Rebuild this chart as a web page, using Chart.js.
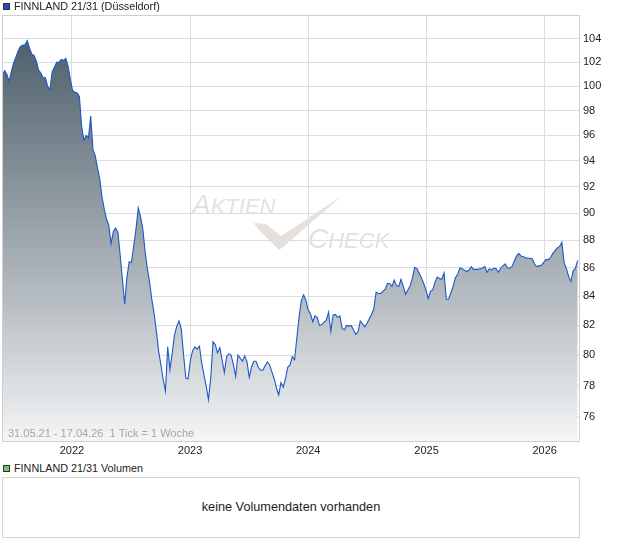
<!DOCTYPE html>
<html>
<head>
<meta charset="utf-8">
<title>FINNLAND 21/31</title>
<script src="https://cdn.jsdelivr.net/npm/chart.js@4.4.1/dist/chart.umd.min.js"></script>
<style>
    body { margin: 0; background: #fff; font-family: "Liberation Sans", Arial, sans-serif; color: #222; }
    #page { position: relative; width: 620px; height: 546px; overflow: hidden; }
    .legend { position: absolute; left: 3px; height: 12px; display: flex; align-items: center; font-size: 10.8px; white-space: nowrap; }
    .legend .box { width: 5px; height: 5px; border: 1px solid #333; margin-right: 4px; }
    #priceLegend { top: 0; }
    #priceLegend .box { background: #1f4fb0; }
    #volumeLegend { top: 462px; }
    #volumeLegend .box { background: #66cc66; }
    #chartWrap { position: absolute; left: 0; top: 0; width: 620px; height: 462px; }
    #volumeBox { position: absolute; left: 2px; top: 477px; width: 576px; height: 59px; border: 1px solid #d4d4d4; font-size: 12.7px; line-height: 59px; text-align: center; }
</style>
</head>
<body>
<div id="page">
    <div id="chartWrap"><canvas id="priceChart" width="620" height="462"></canvas></div>
    <div class="legend" id="priceLegend"><span class="box"></span><span id="priceTitle"></span></div>
    <div class="legend" id="volumeLegend"><span class="box"></span><span id="volumeTitle"></span></div>
    <div id="volumeBox"></div>
</div>
<script>
const seriesName = "FINNLAND 21/31 (Düsseldorf)";
const volumeName = "FINNLAND 21/31 Volumen";
const volumeNote = "keine Volumendaten vorhanden";
const rangeLabel = "31.05.21 - 17.04.26";
const tickNote = "1 Tick = 1 Woche";
const startDate = "2021-05-31";
const endDate = "2026-04-17";

const yearTicks = [2022, 2023, 2024, 2025, 2026];
const priceTicks = [76, 78, 80, 82, 84, 86, 88, 90, 92, 94, 96, 98, 100, 102, 104];

// one close per week, starting 31.05.21
const weeklyPrices = [
    100.9, 101.3, 101.0, 100.4, 101.25, 101.95, 102.45, 103.0, 103.35, 103.45,
    103.5, 103.85, 103.2, 102.7, 102.6, 102.1, 101.35, 101.1, 100.7, 100.7,
    100.0, 99.7, 101.2, 101.6, 102.0, 102.0, 102.25, 102.15, 102.35, 101.7,
    100.6, 99.65, 99.5, 99.45, 99.15, 96.75, 95.6, 96.0, 95.8, 97.55,
    94.9, 94.4, 93.45, 92.6, 91.2, 90.3, 89.55, 89.1, 87.75, 88.65,
    88.9, 88.6, 86.95, 85.2, 83.45, 85.35, 86.45, 86.4, 87.6, 88.85,
    90.4, 89.75, 88.85, 87.2, 85.95, 85.0, 83.75, 82.8, 81.6, 80.25,
    79.35, 78.4, 77.65, 80.55, 79.05, 80.15, 81.35, 81.95, 82.3, 81.75,
    80.0, 78.5, 78.45, 79.65, 80.3, 80.55, 80.4, 80.6, 79.5, 78.7,
    77.95, 77.1, 78.5, 80.9, 80.7, 80.15, 80.5, 79.7, 78.85, 79.9,
    80.1, 80.0, 79.35, 78.6, 80.0, 79.8, 79.6, 79.95, 79.55, 78.55,
    79.2, 79.6, 79.6, 79.2, 79.0, 79.0, 79.3, 79.55, 79.35, 78.9,
    78.45, 77.85, 77.4, 78.2, 77.9, 78.45, 79.2, 79.35, 79.9, 79.7,
    81.15, 82.6, 83.7, 84.1, 83.75, 83.05, 82.8, 82.25, 82.65, 82.55,
    82.0, 82.05, 82.2, 82.35, 82.9, 81.6, 82.7, 82.75, 82.55, 82.65,
    81.8, 81.7, 82.0, 81.95, 82.0, 81.7, 81.4, 81.55, 82.3, 82.1,
    81.9, 82.15, 82.45, 82.75, 83.15, 84.3, 84.2, 84.2, 84.35, 84.5,
    84.9, 84.9, 84.7, 85.15, 84.75, 84.7, 85.2, 84.7, 84.15, 84.45,
    84.75, 85.25, 86.05, 85.95, 85.65, 85.3, 84.9, 84.45, 83.85, 84.35,
    84.45, 85.0, 85.35, 85.25, 85.2, 85.65, 83.8, 83.8, 84.25, 84.7,
    85.3, 85.55, 86.0, 85.95, 85.85, 85.75, 85.85, 86.1, 85.9, 85.9,
    85.9, 85.95, 86.0, 86.1, 85.7, 85.95, 85.85, 86.0, 85.95, 85.7,
    86.0, 86.15, 86.3, 86.0, 86.0, 86.1, 86.5, 86.85, 87.05, 86.85,
    86.8, 86.75, 86.7, 86.7, 86.65, 86.25, 86.1, 86.15, 86.2, 86.4,
    86.6, 86.6, 86.75, 87.05, 87.25, 87.45, 87.55, 87.85, 86.4, 85.95,
    85.4, 85.05, 85.8, 86.0, 86.55
];

const DAY = 86400000;
const t0 = Date.parse(startDate + "T00:00:00Z");
const lastDay = (Date.parse(endDate + "T00:00:00Z") - t0) / DAY;
const yearDay = y => (Date.UTC(y, 0, 1) - t0) / DAY;

const labelFont = { family: "'Liberation Sans', Arial, sans-serif", size: 11 };

const chartFrame = {
    id: "chartFrame",
    beforeDatasetsDraw(chart) {
        const { ctx, chartArea: a } = chart;
        const ox = a.left, oy = a.top;
        ctx.save();
        ctx.fillStyle = "#e5e0db";
        ctx.textBaseline = "alphabetic";
        ctx.font = "italic 28px 'Liberation Sans', Arial, sans-serif";
        ctx.fillText("A", ox + 189, oy + 198);
        let w = ctx.measureText("A").width;
        ctx.font = "italic 22px 'Liberation Sans', Arial, sans-serif";
        ctx.fillText("KTIEN", ox + 189 + w, oy + 198);
        ctx.font = "italic 28px 'Liberation Sans', Arial, sans-serif";
        ctx.fillText("C", ox + 305, oy + 232);
        w = ctx.measureText("C").width;
        ctx.font = "italic 22px 'Liberation Sans', Arial, sans-serif";
        ctx.fillText("HECK", ox + 305 + w, oy + 232);
        ctx.beginPath();
        ctx.moveTo(ox + 251, oy + 207);
        ctx.lineTo(ox + 263, oy + 208);
        ctx.lineTo(ox + 278, oy + 220);
        ctx.lineTo(ox + 339, oy + 180);
        ctx.lineTo(ox + 280, oy + 231);
        ctx.lineTo(ox + 276, oy + 234);
        ctx.lineTo(ox + 255, oy + 213);
        ctx.closePath();
        ctx.fill();
        ctx.restore();
    },
    afterDatasetsDraw(chart) {
        const { ctx, chartArea: a } = chart;
        ctx.save();
        ctx.strokeStyle = "#cfcfcf";
        ctx.lineWidth = 1;
        ctx.strokeRect(a.left - 0.5, a.top - 0.5, a.right - a.left + 1, a.bottom - a.top + 1);
        ctx.fillStyle = "#a6a6a6";
        ctx.font = "11px 'Liberation Sans', Arial, sans-serif";
        ctx.textBaseline = "middle";
        ctx.fillText(rangeLabel + "  " + tickNote, a.left + 5, a.bottom - 7);
        ctx.restore();
    }
};

document.addEventListener("DOMContentLoaded", function () {
    document.getElementById("priceTitle").textContent = seriesName;
    document.getElementById("volumeTitle").textContent = volumeName;
    document.getElementById("volumeBox").textContent = volumeNote;

    const points = weeklyPrices.map((p, i) => ({ x: i * 7, y: p }));

    new Chart(document.getElementById("priceChart"), {
        type: "line",
        data: {
            datasets: [{
                label: seriesName,
                data: points,
                borderColor: "#1c58c7",
                borderWidth: 1.1,
                pointRadius: 0,
                tension: 0,
                fill: "start",
                backgroundColor: function (context) {
                    const a = context.chart.chartArea;
                    if (!a) return "rgba(0,0,0,0)";
                    const g = context.chart.ctx.createLinearGradient(0, a.top, 0, a.bottom);
                    g.addColorStop(0, "rgb(70,88,100)");
                    g.addColorStop(0.67, "rgb(182,189,194)");
                    g.addColorStop(1, "rgb(244,245,246)");
                    return g;
                }
            }]
        },
        options: {
            responsive: false,
            animation: false,
            devicePixelRatio: 1,
            layout: { padding: { top: 16, left: 3, right: 0, bottom: 0 } },
            plugins: {
                legend: { display: false },
                tooltip: { enabled: false }
            },
            scales: {
                x: {
                    type: "linear",
                    min: 2,
                    max: lastDay,
                    afterBuildTicks: scale => { scale.ticks = yearTicks.map(y => ({ value: yearDay(y) })); },
                    afterFit: scale => { scale.height = 21; },
                    ticks: {
                        callback: (v, i) => String(yearTicks[i]),
                        font: labelFont,
                        color: "#222",
                        padding: 3,
                        maxRotation: 0,
                        autoSkip: false
                    },
                    grid: { color: "#dcdcdc", drawTicks: false },
                    border: { display: false }
                },
                y: {
                    type: "logarithmic",
                    position: "right",
                    min: 74.5,
                    max: 106,
                    afterBuildTicks: scale => { scale.ticks = priceTicks.map(v => ({ value: v })); },
                    afterFit: scale => { scale.width = 41; },
                    ticks: {
                        callback: v => String(v),
                        font: labelFont,
                        color: "#222",
                        padding: 4,
                        autoSkip: false
                    },
                    grid: { color: "#dcdcdc", drawTicks: false },
                    border: { display: false }
                }
            }
        },
        plugins: [chartFrame]
    });
});
</script>
</body>
</html>
